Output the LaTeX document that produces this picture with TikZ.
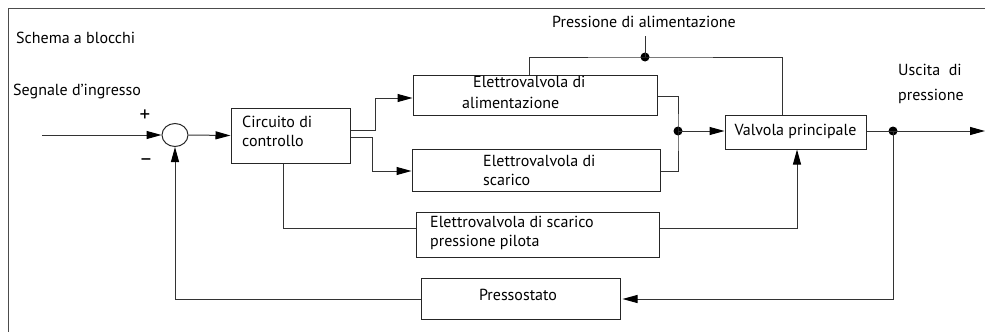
\documentclass[tikz,border=0pt]{standalone}
\usepackage{fontspec}
\setmainfont{PT Sans}
\usetikzlibrary{arrows.meta,shapes.geometric}
\begin{document}
\begin{tikzpicture}[x=1pt,y=-1pt,
  every node/.style={font=\fontsize{16}{19}\selectfont},
  box/.style={draw=black!85,line width=1pt,inner sep=0pt},
  lbl/.style={inner sep=0pt,anchor=west,align=left},
  sign/.style={inner sep=0pt,font=\fontsize{21}{21}\selectfont},
  wire/.style={draw=black!80,line width=1pt},
  arr/.style={wire,-{Triangle[length=15pt,width=8pt,fill=black,color=black]}},
  dot/.style={circle,fill=black,inner sep=0pt,minimum size=9pt}]
\useasboundingbox (0,0) rectangle (985,332);
% frame
\draw[black!70,line width=1pt] (985,8) -- (8,8) -- (8,332);
% texts
\node[lbl] (title) at (16,38) {Schema a blocchi};
\node[lbl] (inlbl) at (13,91) {Segnale d'ingresso};
\node[sign] (plus) at (145,116) {+};
\node[sign] (minus) at (146,162) {–};
\node[inner sep=0pt] (plbl) at (644,22) {Pressione di alimentazione};
\node[lbl] (out1) at (898,70) {Uscita\ \ di};
\node[lbl] (out2) at (898,96) {pressione};
% blocks
\node[draw=black!85,line width=1pt,ellipse,minimum width=26pt,minimum height=23pt,inner sep=0pt] (sum) at (175,135) {};
\node[box,minimum width=119pt,minimum height=55pt] (circ) at (290.5,135.5) {};
\node[lbl] (circT) at (242,131) {Circuito di\\controllo};
\node[box,minimum width=244pt,minimum height=40pt] (alim) at (535,95) {};
\node[lbl] (alimT1) at (473,82) {Elettrovalvola di};
\node[lbl] (alimT2) at (462,103) {alimentazione};
\node[box,minimum width=248pt,minimum height=42pt] (scar) at (536,170) {};
\node[lbl] (scarT) at (483,170.5) {Elettrovalvola di\\scarico};
\node[box,minimum width=243pt,minimum height=45pt] (pilot) at (537.5,234.5) {};
\node[lbl] (pilotT) at (430,232.5) {Elettrovalvola di scarico\\pressione pilota};
\node[box,minimum width=199pt,minimum height=41pt] (press) at (520.5,298.5) {};
\node[inner sep=0pt] (pressT) at (518,295) {Pressostato};
\node[box,minimum width=141pt,minimum height=34pt] (valv) at (795.5,132) {};
\node[inner sep=0pt] (valvT) at (795.5,131) {Valvola principale};
% junctions
\node[dot] (j1) at (678,131) {};
\node[dot] (j2) at (645,57) {};
\node[dot] (j3) at (893,131) {};
\coordinate (inS) at (42,135);
\coordinate (pS) at (645,36);
\coordinate (outE) at (985,131);
% connectors
\draw[arr] (inS) -- (sum.west);
\draw[arr] (sum.east) -- (circ.west);
\draw[arr] ([yshift=5.5pt]circ.east) -- ++(25,0) |- ([yshift=-3pt]alim.west);
\draw[arr] ([yshift=-1.5pt]circ.east) -- ++(22,0) |- ([yshift=-1pt]scar.west);
\draw[wire] ([xshift=-7.5pt]circ.south) |- ([yshift=6.5pt]pilot.west);
\draw[arr] ([yshift=6.5pt]pilot.east) -| ([xshift=1.5pt]valv.south);
\draw[wire] ([yshift=-1pt]alim.east) -| (j1.center) |- ([yshift=-1pt]scar.east);
\draw[arr] (j1.center) -- (j1 -| valv.west);
\draw[wire] (pS) -- (j2.center);
\draw[wire] ([xshift=-6pt]alim.north) |- (j2.center) -| ([xshift=-13.5pt]valv.north);
\draw[wire] (valv.east |- j3) -- (j3.center);
\draw[arr] (j3.center) -- (outE);
\draw[arr] (j3.center) |- ([xshift=2pt,yshift=-0.5pt]press.east);
\draw[arr] ([yshift=-0.5pt]press.west) -| (sum.south);
\end{tikzpicture}
\end{document}
